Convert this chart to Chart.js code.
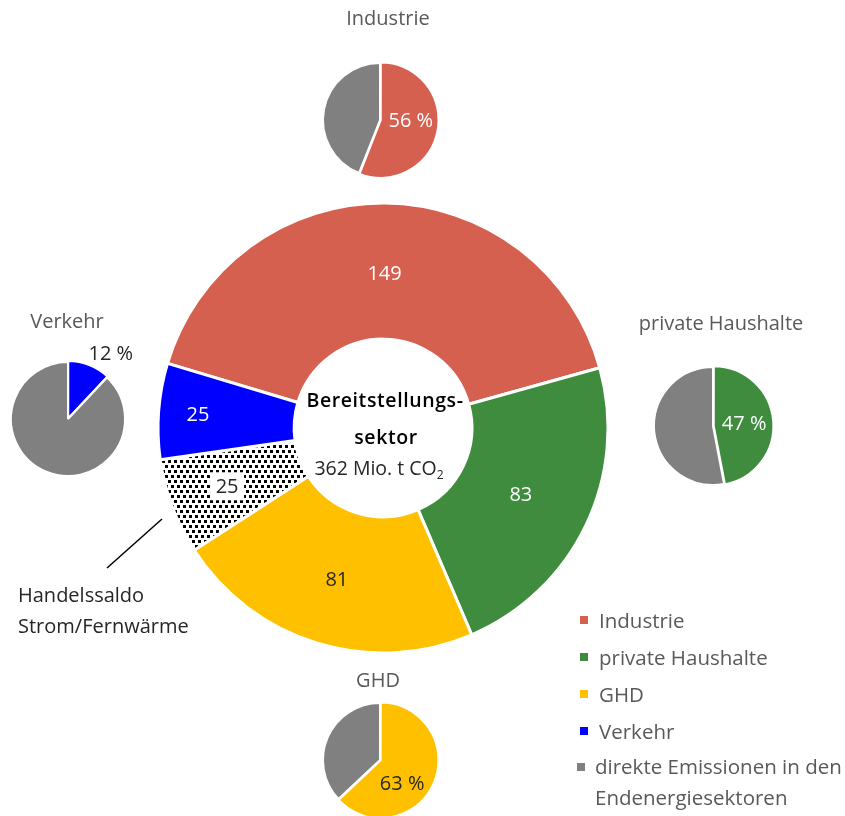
<!DOCTYPE html>
<html>
<head>
<meta charset="utf-8">
<script src="https://cdn.jsdelivr.net/npm/chart.js@4.4.1/dist/chart.umd.min.js"></script>
<style>
  body { margin: 0; background: #fff; font-family: 'Open Sans', sans-serif; }
  #wrap { position: relative; width: 845px; height: 816px; overflow: hidden; }
  canvas { position: absolute; }
  .t { position: absolute; transform: translate(-50%, -50%); white-space: nowrap; }
  .title { color: #595959; font-size: 20px; }
  .center-b { color: #000; font-size: 19.5px; font-weight: 600; letter-spacing: 0.6px; }
  .center-n { color: #262626; font-size: 19.5px; }
  .center-n sub { font-size: 12px; vertical-align: -4px; line-height: 0; }
  .note { position: absolute; left: 18px; color: #262626; font-size: 20px; line-height: 31px; }
  .legend { position: absolute; left: 577px; top: 603px; color: #595959; font-size: 20.5px; }
  .legend .item { position: relative; padding-left: 22px; height: 37px; line-height: 34px; }
  .legend .sw { position: absolute; left: 3px; top: 13px; width: 8px; height: 8px; }
  .legend .item.last { padding-left: 18px; line-height: 31px; height: auto; }
  .legend .item.last .sw { left: 0; top: 12px; }
</style>
</head>
<body>
<div id="wrap">
  <canvas id="main" width="845" height="816" style="left:0;top:0"></canvas>
  <canvas id="pieInd" width="190" height="190"></canvas>
  <canvas id="piePH" width="190" height="190"></canvas>
  <canvas id="pieGHD" width="190" height="190"></canvas>
  <canvas id="pieVK" width="190" height="190"></canvas>

  <div class="t title" style="left:388px;top:17px">Industrie</div>
  <div class="t title" style="left:721px;top:322px">private Haushalte</div>
  <div class="t title" style="left:67px;top:320px">Verkehr</div>
  <div class="t title" style="left:378px;top:679px">GHD</div>

  <div class="t center-b" style="left:385px;top:399px">Bereitstellungs-</div>
  <div class="t center-b" style="left:386px;top:436px">sektor</div>
  <div class="t center-n" style="left:379px;top:467px">362 Mio. t CO<sub>2</sub></div>

  <div class="note" style="top:579px">Handelssaldo<br>Strom/Fernwärme</div>

  <div class="legend" id="legend"></div>
</div>

<script>
// ── Data ─────────────────────────────────────────────────────────────────
const sectors = ['Industrie', 'private Haushalte', 'GHD', 'Handelssaldo Strom/Fernwärme', 'Verkehr'];
const sectorValues = [149, 83, 81, 25, 25];          // Mio. t CO2 aus dem Bereitstellungssektor
const shareSectors = ['Industrie', 'private Haushalte', 'GHD', 'Verkehr'];
const shareValues = [56, 47, 63, 12];                // % Anteil Bereitstellung je Sektor
const legendLabels = ['Industrie', 'private Haushalte', 'GHD', 'Verkehr', 'direkte Emissionen in den Endenergiesektoren'];

const COLORS = {
  'Industrie': '#D6604F',
  'private Haushalte': '#3F8C3F',
  'GHD': '#FFC000',
  'Verkehr': '#0000FF',
  'direkt': '#808080',
};

// dotted fill for the Handelssaldo segment
function dotPattern() {
  const c = document.createElement('canvas');
  c.width = 6; c.height = 10;
  const x = c.getContext('2d');
  x.fillStyle = '#fff';
  x.fillRect(0, 0, 6, 10);
  x.fillStyle = '#000';
  x.fillRect(0, 0, 3, 3);
  x.fillRect(3, 5, 3, 3);
  return x.createPattern(c, 'repeat');
}

const sectorFill = sectors.map(s => COLORS[s] || dotPattern());

// ── Main doughnut ────────────────────────────────────────────────────────
const labelDepth = [0.48, 0.47, 0.51, 0.57, 0.71];
const labelColor = ['#fff', '#fff', '#262626', '#262626', '#fff'];

const mainLabels = {
  id: 'mainLabels',
  afterDatasetsDraw(chart) {
    const ctx = chart.ctx;
    const arcs = chart.getDatasetMeta(0).data;
    ctx.save();
    ctx.font = "20px 'Open Sans', sans-serif";
    ctx.textAlign = 'center';
    ctx.textBaseline = 'middle';
    arcs.forEach((arc, i) => {
      const p = arc.getProps(['x', 'y', 'startAngle', 'endAngle', 'innerRadius', 'outerRadius'], true);
      const mid = (p.startAngle + p.endAngle) / 2;
      const r = p.innerRadius + (p.outerRadius - p.innerRadius) * labelDepth[i];
      const lx = p.x + Math.cos(mid) * r;
      const ly = p.y + Math.sin(mid) * r;
      const txt = String(sectorValues[i]);
      if (sectorFill[i] instanceof CanvasPattern) {
        ctx.fillStyle = '#fff';
        ctx.fillRect(lx - 17, ly - 14, 34, 28);
      }
      ctx.fillStyle = labelColor[i];
      ctx.fillText(txt, lx, ly + 1);
    });
    // leader line to the Handelssaldo note
    ctx.strokeStyle = '#000';
    ctx.lineWidth = 1.5;
    ctx.beginPath();
    ctx.moveTo(162, 519);
    ctx.lineTo(107, 568);
    ctx.stroke();
    ctx.restore();
  }
};

new Chart(document.getElementById('main'), {
  type: 'doughnut',
  data: {
    labels: sectors,
    datasets: [{
      data: sectorValues,
      backgroundColor: sectorFill,
      borderColor: '#fff',
      borderWidth: 3,
    }]
  },
  options: {
    responsive: false,
    animation: false,
    rotation: -73.3,
    radius: 225,
    cutout: '39.5%',
    layout: { padding: { left: 0, right: 79, top: 40, bottom: 0 } },
    plugins: { legend: { display: false }, tooltip: { enabled: false } },
  },
  plugins: [mainLabels]
});

// ── Small share pies ─────────────────────────────────────────────────────
function makePie(id, idx, cx, cy, radius, lab) {
  const el = document.getElementById(id);
  el.style.left = (cx - 95) + 'px';
  el.style.top = (cy - 95) + 'px';
  const name = shareSectors[idx];
  const v = shareValues[idx];
  new Chart(el, {
    type: 'pie',
    data: {
      labels: [name, 'direkte Emissionen in den Endenergiesektoren'],
      datasets: [{
        data: [v, 100 - v],
        backgroundColor: [COLORS[name], COLORS.direkt],
        borderColor: '#fff',
        borderWidth: 2,
        offset: [3, 0],
      }]
    },
    options: {
      responsive: false,
      animation: false,
      radius: radius,
      plugins: { legend: { display: false }, tooltip: { enabled: false } },
    },
    plugins: [{
      id: 'pct',
      afterDatasetsDraw(chart) {
        const ctx = chart.ctx;
        const arc = chart.getDatasetMeta(0).data[0];
        const p = arc.getProps(['x', 'y', 'outerRadius'], true);
        const a = lab.angle * Math.PI / 180;
        const lx = p.x + Math.sin(a) * p.outerRadius * lab.r;
        const ly = p.y - Math.cos(a) * p.outerRadius * lab.r;
        ctx.save();
        ctx.font = "20px 'Open Sans', sans-serif";
        ctx.textAlign = 'center';
        ctx.textBaseline = 'middle';
        ctx.fillStyle = lab.color;
        ctx.fillText(v + ' %', lx, ly + 1);
        ctx.restore();
      }
    }]
  });
}

makePie('pieInd', 0, 380, 119.5, 57, { angle: 90, r: 0.54, color: '#fff' });
makePie('piePH', 1, 713, 426, 59, { angle: 85, r: 0.53, color: '#fff' });
makePie('pieGHD', 2, 380, 760, 57, { angle: 136, r: 0.56, color: '#262626' });
makePie('pieVK', 3, 67.5, 419, 57, { angle: 33, r: 1.38, color: '#262626' });

// ── Legend ───────────────────────────────────────────────────────────────
const legendColors = [COLORS['Industrie'], COLORS['private Haushalte'], COLORS['GHD'], COLORS['Verkehr'], COLORS.direkt];
document.getElementById('legend').innerHTML = legendLabels.map((l, i) => {
  const last = i === legendLabels.length - 1;
  const text = last ? l.replace(' in den ', ' in den<br>') : l;
  return `<div class="item${last ? ' last' : ''}"><span class="sw" style="background:${legendColors[i]}"></span>${text}</div>`;
}).join('');
</script>
</body>
</html>
